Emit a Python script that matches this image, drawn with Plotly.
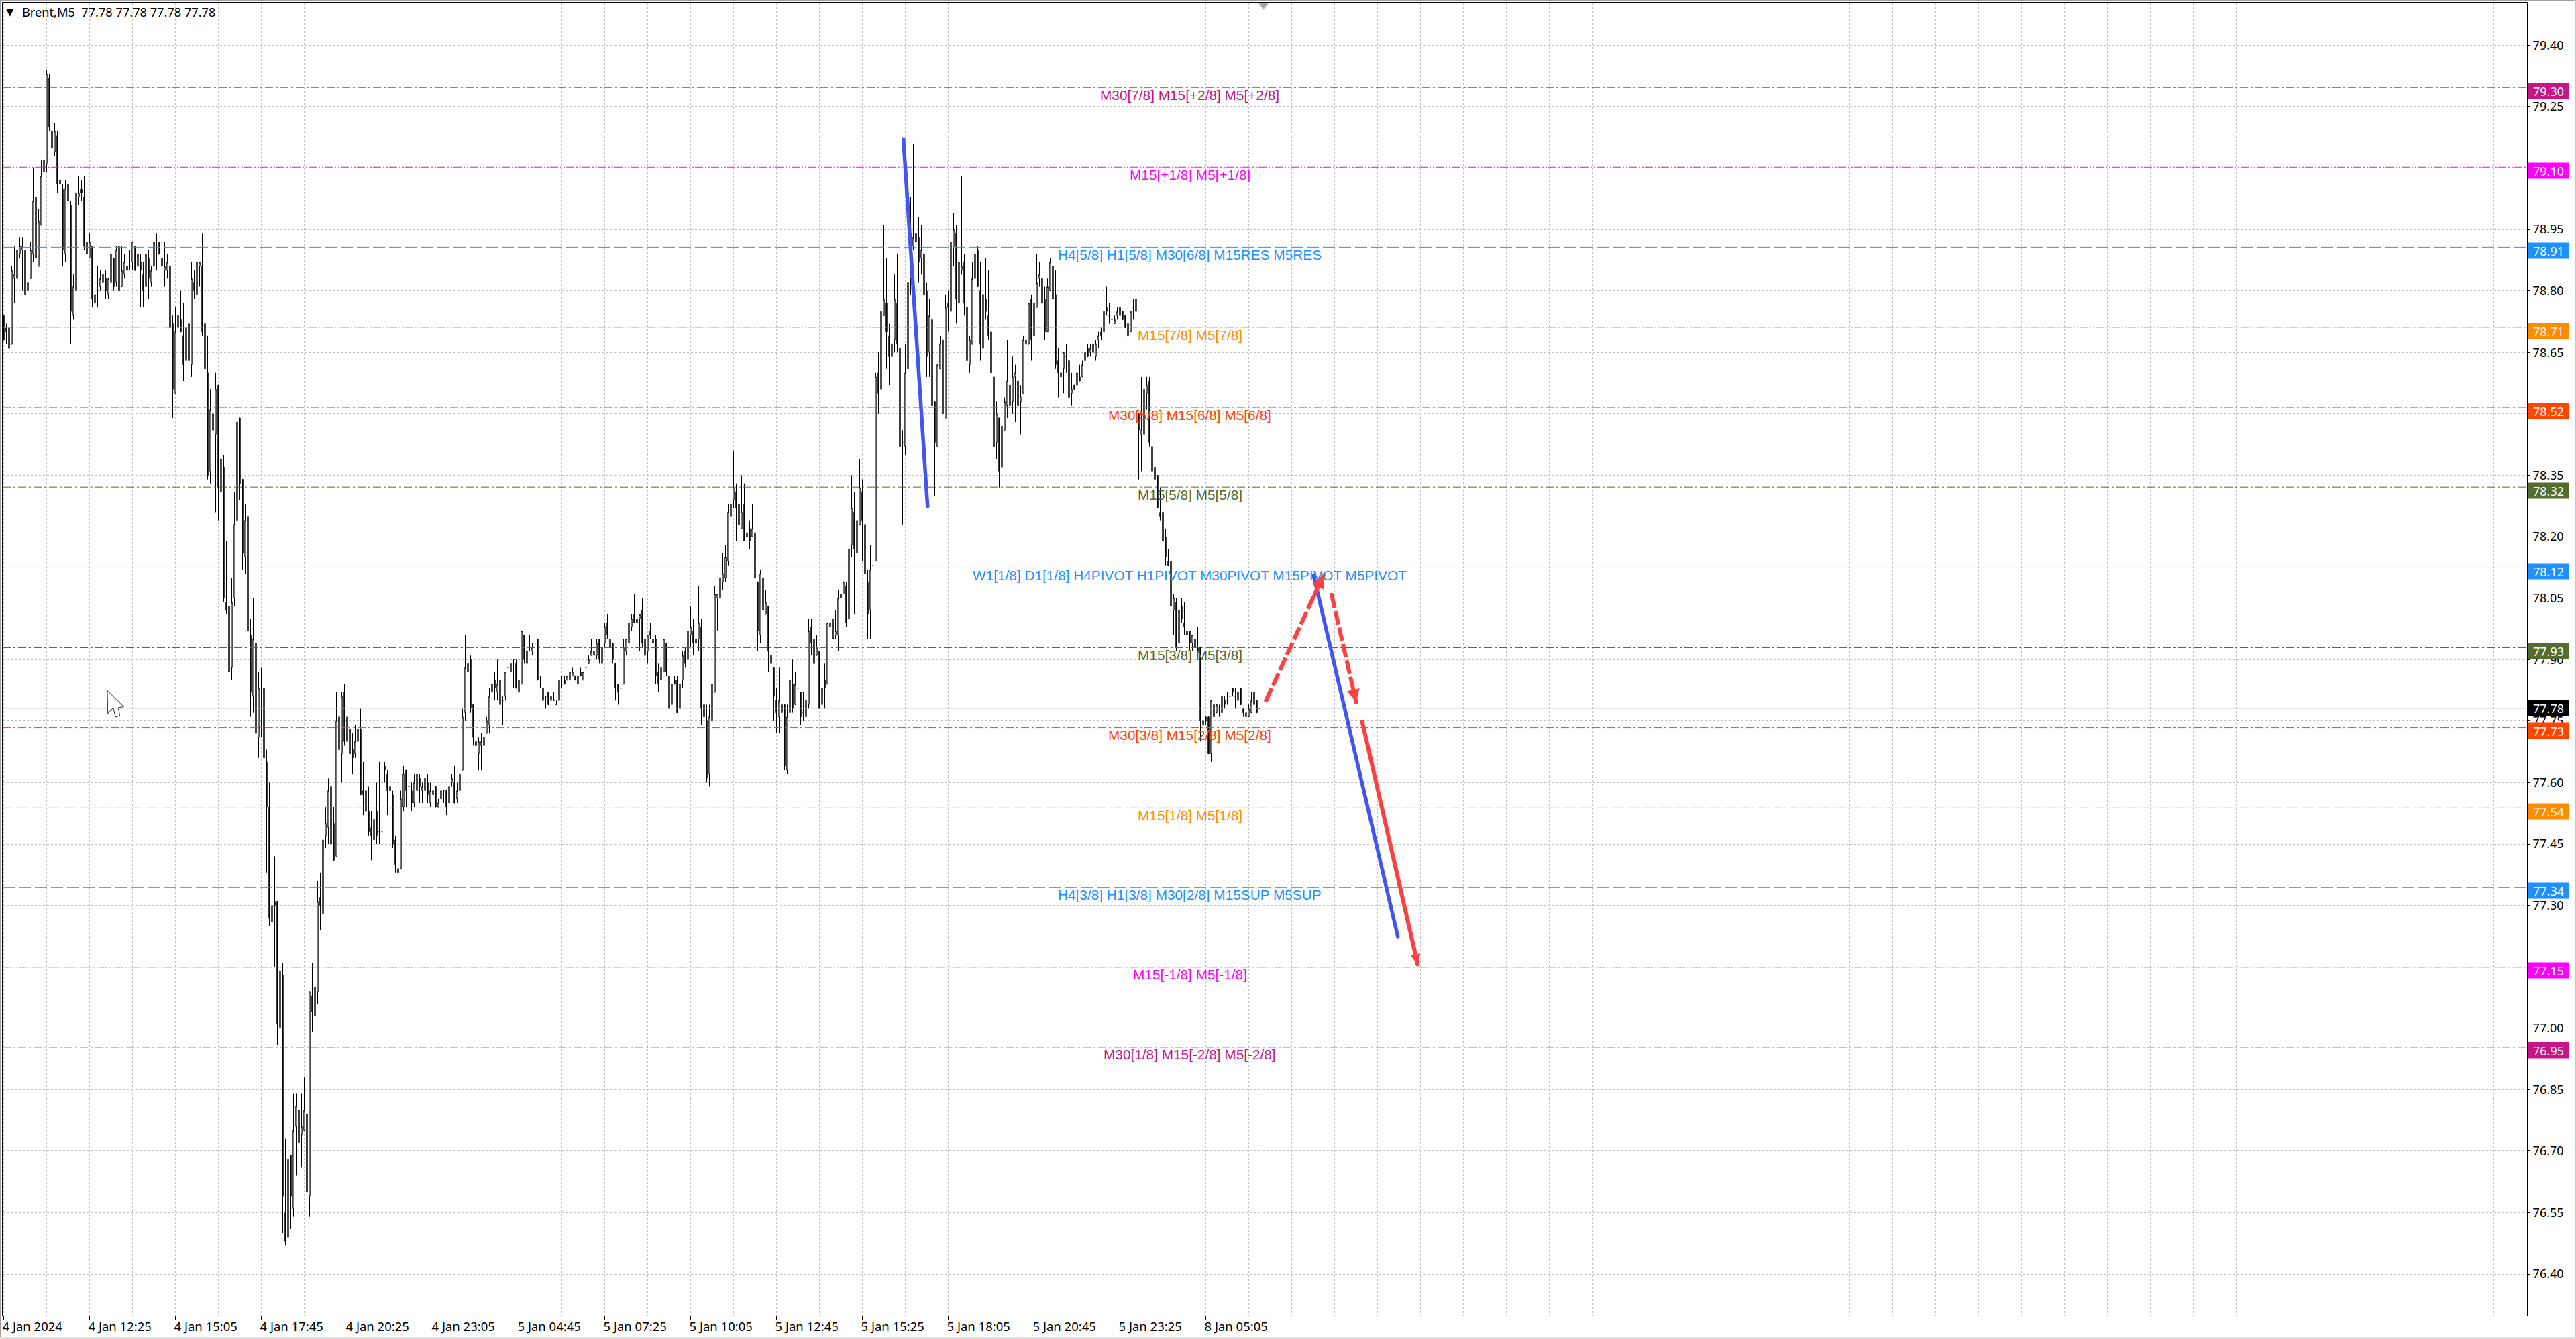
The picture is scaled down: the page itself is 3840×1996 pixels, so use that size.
import plotly.graph_objects as go

W, H = 3840, 1996
ML, MR, MT, MB = 4, 73, 4, 35

open_ = [
78.74,78.71,78.71,78.67,78.83,78.83,78.89,78.90,78.90,78.80,
78.83,78.89,79.03,78.86,78.96,79.09,79.11,79.32,79.19,79.14,
79.18,79.07,79.05,78.89,79.06,79.01,78.74,78.80,79.03,79.05,
79.03,78.92,78.88,78.91,78.77,78.80,78.81,78.82,78.83,78.79,
78.82,78.88,78.82,78.91,78.81,78.84,78.86,78.86,78.87,78.91,
78.86,78.87,78.84,78.81,78.88,78.82,78.86,78.91,78.92,78.88,
78.85,78.85,78.86,78.72,78.55,78.71,78.73,78.69,78.63,78.72,
78.62,78.82,78.79,78.86,78.86,78.72,78.60,78.36,78.50,78.45,
78.57,78.31,78.37,78.04,78.03,77.88,78.05,78.24,78.49,78.34,
78.15,78.25,77.96,77.81,77.94,77.71,77.84,77.83,77.65,77.54,
77.26,77.31,77.31,77.00,77.13,76.55,76.49,76.69,76.56,76.76,
76.80,76.74,76.75,76.79,76.59,77.08,77.03,77.09,77.32,77.28,
77.47,77.49,77.59,77.50,77.42,77.76,77.67,77.82,77.76,77.73,
77.68,77.67,77.70,77.73,77.58,77.58,77.53,77.49,77.46,77.53,
77.48,77.48,77.64,77.62,77.59,77.57,77.46,77.39,77.39,77.54,
77.63,77.59,77.58,77.55,77.58,77.61,77.58,77.58,77.60,77.55,
77.57,77.59,77.54,77.56,77.58,77.58,77.55,77.60,77.60,77.56,
77.58,77.63,77.77,77.87,77.90,77.79,77.70,77.67,77.69,77.69,
77.72,77.74,77.82,77.85,77.82,77.85,77.80,77.81,77.88,77.87,
77.90,77.89,77.82,77.84,77.96,77.89,77.93,77.92,77.94,77.95,
77.84,77.83,77.81,77.82,77.80,77.80,77.79,77.80,77.84,77.85,
77.85,77.85,77.86,77.86,77.84,77.87,77.85,77.88,77.89,77.91,
77.91,77.91,77.95,77.89,77.94,77.99,77.95,77.94,77.89,77.84,
77.83,77.84,77.92,77.94,77.98,78.01,78.00,78.00,78.02,77.95,
77.92,77.97,77.95,77.95,77.87,77.85,77.87,77.94,77.86,77.79,
77.85,77.85,77.78,77.85,77.92,77.90,77.96,77.97,77.95,77.95,
77.98,77.79,77.75,77.62,77.75,77.82,78.05,78.05,78.09,78.10,
78.14,78.25,78.29,78.31,78.28,78.22,78.28,78.20,78.22,78.20,
78.21,78.09,77.96,78.10,78.01,78.03,77.91,77.88,77.80,77.76,
77.79,77.79,77.63,77.77,77.84,77.79,77.83,77.82,77.77,77.76,
77.79,77.98,77.95,77.91,77.92,77.79,77.85,77.84,77.98,78.00,
77.96,77.96,78.06,78.06,78.08,78.00,78.18,78.26,78.16,78.23,
78.31,78.23,78.09,78.02,78.13,78.14,78.60,78.56,78.74,78.77,
78.69,78.64,78.68,78.77,78.66,78.43,78.42,78.61,78.83,78.91,
78.94,78.93,78.88,78.89,78.80,78.65,78.73,78.53,78.42,78.61,
78.68,78.49,78.77,78.75,78.91,78.94,78.77,78.85,78.87,78.76,
78.62,78.67,78.83,78.90,78.80,78.66,78.78,78.74,78.70,78.59,
78.43,78.49,78.37,78.46,78.52,78.57,78.53,78.59,78.58,78.53,
78.55,78.67,78.67,78.78,78.69,78.76,78.83,78.83,78.78,78.70,
78.80,78.86,78.79,78.63,78.59,78.61,78.64,78.63,78.55,78.57,
78.57,78.59,78.59,78.63,78.66,78.65,78.67,78.64,78.68,78.70,
78.70,78.76,78.74,78.73,78.72,78.74,78.76,78.75,78.74,78.72,
78.70,78.76,78.75,78.50,78.45,78.45,78.55,78.58,78.42,78.37,
78.35,78.26,78.26,78.20,78.14,78.14,78.02,78.04,77.94,78.03,
77.99,77.97,77.97,77.94,77.95,77.93,77.93,77.74,77.76,77.76,
77.67,77.79,77.77,77.78,77.77,77.80,77.80,77.81,77.83,77.81,
77.80,77.83,77.78,77.76,77.76,77.77,77.82,77.80,77.78]

high = [
78.74,78.72,78.71,78.86,78.91,78.92,78.93,78.93,78.93,78.85,
78.92,79.10,79.03,79.00,79.12,79.15,79.34,79.33,79.25,79.21,
79.19,79.07,79.06,79.07,79.06,79.02,78.84,79.04,79.08,79.07,
79.08,78.95,78.94,78.91,78.87,78.86,78.85,78.88,78.85,78.83,
78.92,78.88,78.91,78.91,78.91,78.89,78.90,78.90,78.92,78.91,
78.90,78.89,78.87,78.94,78.90,78.86,78.96,78.94,78.92,78.96,
78.92,78.89,78.87,78.74,78.76,78.81,78.80,78.77,78.78,78.83,
78.87,78.85,78.94,78.87,78.94,78.72,78.69,78.56,78.62,78.60,
78.57,78.53,78.40,78.19,78.11,78.10,78.31,78.50,78.49,78.34,
78.28,78.25,78.00,78.05,77.94,77.87,77.88,77.84,77.68,77.60,
77.42,77.42,77.31,77.16,77.16,76.73,76.72,76.69,76.84,76.84,
76.89,76.84,76.88,76.79,77.09,77.16,77.16,77.36,77.38,77.57,
77.54,77.61,77.61,77.54,77.82,77.80,77.82,77.84,77.79,77.79,
77.72,77.74,77.79,77.78,77.65,77.65,77.59,77.53,77.53,77.60,
77.65,77.50,77.65,77.63,77.61,77.58,77.47,77.42,77.58,77.64,
77.63,77.59,77.60,77.62,77.63,77.62,77.60,77.62,77.62,77.60,
77.58,77.59,77.56,77.60,77.58,77.58,77.59,77.62,77.64,77.60,
77.63,77.78,77.96,77.90,77.91,77.79,77.73,77.71,77.72,77.74,
77.76,77.83,77.85,77.87,77.90,77.85,77.81,77.87,77.90,77.90,
77.90,77.90,77.86,77.97,77.96,77.93,77.96,77.94,77.96,77.95,
77.86,77.83,77.81,77.82,77.82,77.82,77.80,77.85,77.86,77.86,
77.86,77.87,77.88,77.86,77.87,77.88,77.87,77.89,77.91,77.95,
77.94,77.95,77.95,77.93,77.99,78.01,77.96,77.94,77.89,77.84,
77.83,77.95,77.95,77.99,78.01,78.06,78.01,78.01,78.05,77.95,
77.96,77.99,77.98,77.96,77.89,77.89,77.95,77.94,77.87,77.85,
77.86,77.86,77.86,77.92,77.93,77.97,78.03,78.00,78.03,78.08,
78.00,77.94,77.79,77.79,77.87,78.08,78.06,78.14,78.16,78.18,
78.28,78.31,78.41,78.33,78.30,78.35,78.33,78.21,78.24,78.28,
78.24,78.09,78.12,78.10,78.07,78.03,77.98,77.88,77.83,77.88,
77.82,77.79,77.79,77.90,77.90,77.87,77.89,77.82,77.82,77.82,
78.00,78.00,77.96,77.96,77.92,77.85,77.89,77.99,78.01,78.02,
78.02,78.07,78.08,78.09,78.09,78.39,78.35,78.31,78.26,78.39,
78.34,78.24,78.12,78.18,78.23,78.60,78.65,78.76,78.96,78.88,
78.72,78.75,78.84,78.89,78.66,78.46,78.67,78.82,79.03,79.16,
79.10,78.98,78.96,78.92,78.82,78.78,78.74,78.53,78.62,78.69,
78.69,78.79,78.80,78.92,78.99,78.96,78.94,79.08,78.89,78.76,
78.69,78.87,78.93,78.91,78.87,78.82,78.88,78.85,78.75,78.62,
78.53,78.49,78.51,78.54,78.68,78.62,78.64,78.62,78.58,78.57,
78.69,78.72,78.77,78.79,78.80,78.89,78.87,78.85,78.81,78.83,
78.88,78.86,78.85,78.66,78.62,78.65,78.67,78.63,78.60,78.57,
78.63,78.62,78.63,78.65,78.67,78.67,78.67,78.68,78.70,78.71,
78.76,78.81,78.77,78.76,78.74,78.76,78.76,78.75,78.74,78.72,
78.75,78.78,78.79,78.50,78.59,78.56,78.59,78.59,78.42,78.37,
78.35,78.32,78.26,78.22,78.17,78.15,78.06,78.05,78.07,78.05,
78.04,77.97,77.97,77.96,77.95,77.98,77.93,77.76,77.76,77.76,
77.80,77.79,77.79,77.79,77.81,77.81,77.82,77.83,77.83,77.83,
77.83,77.83,77.78,77.78,77.79,77.82,77.82,77.80,77.78]

low = [
78.68,78.67,78.64,78.67,78.77,78.83,78.88,78.80,78.77,78.75,
78.83,78.87,78.88,78.86,78.96,79.05,79.09,79.19,79.14,79.13,
79.04,79.03,78.86,78.87,78.97,78.67,78.73,78.80,79.01,79.02,
78.90,78.88,78.88,78.76,78.77,78.76,78.80,78.71,78.78,78.78,
78.82,78.80,78.81,78.76,78.81,78.83,78.81,78.85,78.85,78.85,
78.85,78.76,78.76,78.81,78.78,78.81,78.86,78.85,78.89,78.84,
78.81,78.83,78.68,78.49,78.55,78.64,78.70,78.58,78.61,78.60,
78.59,78.78,78.79,78.81,78.69,78.43,78.34,78.33,78.40,78.26,
78.24,78.23,78.04,78.01,77.82,77.85,78.03,78.19,78.29,78.12,
78.11,77.93,77.76,77.77,77.60,77.66,77.71,77.61,77.38,77.25,
77.17,77.15,76.96,76.96,76.50,76.47,76.47,76.51,76.54,76.64,
76.67,76.66,76.75,76.50,76.54,76.99,76.99,77.06,77.24,77.28,
77.44,77.45,77.45,77.41,77.42,77.61,77.60,77.69,77.68,77.67,
77.62,77.66,77.69,77.57,77.52,77.52,77.47,77.41,77.26,77.45,
77.45,77.46,77.60,77.52,77.57,77.44,77.38,77.33,77.39,77.53,
77.54,77.56,77.53,77.54,77.50,77.55,77.55,77.51,77.55,77.54,
77.54,77.54,77.54,77.54,77.55,77.52,77.55,77.59,77.55,77.55,
77.58,77.63,77.75,77.81,77.77,77.69,77.67,77.63,77.63,77.69,
77.72,77.72,77.80,77.80,77.80,77.79,77.74,77.80,77.86,77.83,
77.83,77.83,77.82,77.84,77.89,77.89,77.92,77.91,77.92,77.85,
77.83,77.80,77.78,77.79,77.80,77.80,77.79,77.80,77.83,77.84,
77.85,77.85,77.86,77.85,77.84,77.86,77.85,77.87,77.89,77.91,
77.91,77.90,77.89,77.88,77.93,77.95,77.91,77.89,77.80,77.79,
77.82,77.84,77.91,77.94,77.97,77.99,77.97,77.92,77.93,77.90,
77.89,77.95,77.92,77.84,77.82,77.85,77.87,77.86,77.74,77.74,
77.84,77.77,77.75,77.83,77.88,77.81,77.93,77.91,77.92,77.92,
77.74,77.66,77.60,77.59,77.74,77.82,77.97,77.98,78.07,78.09,
78.13,78.24,78.27,78.19,78.22,78.22,78.19,78.08,78.17,78.20,
78.09,77.92,77.94,78.02,78.01,77.87,77.87,77.75,77.72,77.72,
77.74,77.63,77.62,77.77,77.77,77.79,77.83,77.74,77.75,77.71,
77.78,77.91,77.85,77.91,77.78,77.78,77.78,77.84,77.98,77.93,
77.95,77.92,78.05,78.06,77.98,78.00,78.15,78.01,78.14,78.23,
78.14,78.11,77.95,77.95,78.08,78.14,78.50,78.40,78.74,78.61,
78.57,78.51,78.65,78.65,78.39,78.23,78.40,78.50,78.79,78.90,
78.90,78.82,78.84,78.75,78.59,78.59,78.52,78.30,78.42,78.61,
78.49,78.49,78.70,78.75,78.86,78.72,78.72,78.84,78.74,78.60,
78.60,78.67,78.78,78.81,78.63,78.65,78.73,78.68,78.57,78.39,
78.39,78.32,78.36,78.46,78.49,78.48,78.50,78.48,78.42,78.45,
78.55,78.64,78.67,78.63,78.68,78.76,78.81,78.72,78.68,78.70,
78.80,78.78,78.61,78.54,78.54,78.55,78.60,78.54,78.52,78.56,
78.56,78.58,78.59,78.63,78.64,78.64,78.65,78.63,78.66,78.68,
78.70,78.74,78.72,78.72,78.72,78.73,78.74,78.73,78.71,78.69,
78.70,78.73,78.74,78.34,78.36,78.45,78.51,78.42,78.36,78.25,
78.27,78.24,78.17,78.13,78.13,78.02,77.96,77.92,77.93,77.99,
77.96,77.92,77.92,77.92,77.91,77.91,77.70,77.70,77.74,77.67,
77.65,77.73,77.77,77.76,77.76,77.78,77.79,77.80,77.81,77.78,
77.79,77.79,77.76,77.75,77.76,77.77,77.79,77.77,77.78]

close = [
78.68,78.70,78.66,78.85,78.84,78.90,78.91,78.91,78.79,78.82,
78.90,79.02,78.88,78.97,79.08,79.12,79.33,79.20,79.15,79.19,
79.06,79.06,78.90,79.05,79.02,78.75,78.81,79.04,79.04,79.04,
78.91,78.89,78.92,78.78,78.79,78.80,78.83,78.84,78.80,78.83,
78.89,78.81,78.90,78.80,78.85,78.87,78.85,78.86,78.92,78.85,
78.89,78.85,78.80,78.89,78.83,78.85,78.92,78.91,78.89,78.86,
78.86,78.87,78.71,78.56,78.70,78.74,78.70,78.62,78.71,78.63,
78.83,78.80,78.87,78.87,78.70,78.61,78.35,78.51,78.46,78.56,
78.32,78.39,78.05,78.02,77.87,78.04,78.23,78.48,78.33,78.16,
78.24,77.97,77.82,77.95,77.72,77.83,77.84,77.66,77.54,77.27,
77.30,77.30,77.01,77.14,76.59,76.48,76.68,76.59,76.75,76.81,
76.72,76.76,76.80,76.60,77.09,77.04,77.10,77.31,77.30,77.46,
77.50,77.58,77.45,77.41,77.75,77.68,77.81,77.70,77.70,77.67,
77.66,77.70,77.73,77.57,77.57,77.53,77.48,77.47,77.51,77.47,
77.48,77.48,77.63,77.58,77.58,77.45,77.40,77.38,77.56,77.62,
77.58,77.59,77.55,77.60,77.62,77.59,77.59,77.61,77.57,77.58,
77.58,77.54,77.55,77.58,77.58,77.54,77.59,77.61,77.55,77.58,
77.62,77.76,77.88,77.89,77.78,77.71,77.69,77.70,77.70,77.71,
77.75,77.81,77.84,77.83,77.84,77.79,77.80,77.87,77.88,77.89,
77.90,77.83,77.85,77.97,77.90,77.92,77.93,77.93,77.94,77.85,
77.84,77.80,77.81,77.79,77.81,77.80,77.79,77.85,77.84,77.84,
77.86,77.87,77.87,77.85,77.86,77.86,77.87,77.88,77.90,77.92,
77.92,77.94,77.90,77.93,77.98,77.96,77.93,77.90,77.83,77.82,
77.83,77.93,77.95,77.99,78.00,77.99,77.99,78.01,77.94,77.91,
77.96,77.96,77.94,77.86,77.84,77.88,77.95,77.87,77.78,77.84,
77.84,77.77,77.84,77.91,77.89,77.97,77.98,77.94,77.94,77.99,
77.78,77.76,77.61,77.76,77.84,78.06,78.06,78.10,78.11,78.15,
78.26,78.28,78.32,78.27,78.23,78.26,78.19,78.21,78.19,78.22,
78.10,77.97,78.11,78.02,78.04,77.92,77.89,77.81,77.77,77.80,
77.77,77.64,77.76,77.85,77.78,77.84,77.83,77.76,77.77,77.80,
77.97,77.94,77.89,77.93,77.78,77.83,77.83,77.99,77.99,77.95,
77.97,78.05,78.05,78.09,77.99,78.17,78.27,78.17,78.24,78.32,
78.24,78.11,78.01,78.12,78.13,78.59,78.55,78.75,78.78,78.70,
78.64,78.67,78.78,78.67,78.42,78.43,78.60,78.82,78.94,78.93,
78.92,78.87,78.90,78.79,78.64,78.74,78.52,78.43,78.62,78.67,
78.50,78.76,78.76,78.92,78.95,78.78,78.87,78.86,78.77,78.63,
78.68,78.83,78.89,78.81,78.67,78.79,78.75,78.69,78.60,78.42,
78.50,78.36,78.47,78.53,78.58,78.52,78.59,78.60,78.52,78.54,
78.68,78.68,78.77,78.68,78.77,78.82,78.84,78.77,78.70,78.81,
78.87,78.78,78.62,78.60,78.60,78.65,78.64,78.54,78.56,78.56,
78.60,78.58,78.62,78.65,78.64,78.66,78.65,78.67,78.69,78.69,
78.75,78.75,78.74,78.73,78.73,78.75,78.74,78.73,78.71,78.69,
78.75,78.76,78.78,78.46,78.46,78.56,78.57,78.43,78.36,78.34,
78.27,78.25,78.19,78.15,78.13,78.03,78.05,77.93,78.02,78.00,
77.98,77.96,77.94,77.96,77.93,77.92,77.75,77.75,77.75,77.67,
77.80,77.76,77.79,77.78,77.81,77.79,77.80,77.81,77.82,77.81,
77.82,77.79,77.77,77.77,77.78,77.80,77.79,77.77,77.78]

price_ticks = [79.40,79.25,79.10,78.95,78.80,78.65,78.50,78.35,78.20,78.05,77.90,
               77.75,77.60,77.45,77.30,77.15,77.00,76.85,76.70,76.55,76.40]
time_labels = ["4 Jan 2024","4 Jan 12:25","4 Jan 15:05","4 Jan 17:45","4 Jan 20:25",
               "4 Jan 23:05","5 Jan 04:45","5 Jan 07:25","5 Jan 10:05","5 Jan 12:45",
               "5 Jan 15:25","5 Jan 18:05","5 Jan 20:45","5 Jan 23:25","8 Jan 05:05"]

level_prices = [79.297,79.102,78.907,78.711,78.516,78.321,78.124,77.929,77.734,77.538,77.344,77.149,76.954]
level_shown  = ["79.30","79.10","78.91","78.71","78.52","78.32","78.12","77.93","77.73","77.54","77.34","77.15","76.95"]
level_colors = ["#C71585","#FF00FF","#1E90FF","#FF8C00","#FF4500","#556B2F","#1E90FF",
                "#556B2F","#FF4500","#FF8C00","#1E90FF","#FF00FF","#C71585"]
level_texts = ["M30[7/8] M15[+2/8] M5[+2/8]","M15[+1/8] M5[+1/8]","H4[5/8] H1[5/8] M30[6/8] M15RES M5RES",
               "M15[7/8] M5[7/8]","M30[5/8] M15[6/8] M5[6/8]","M15[5/8] M5[5/8]",
               "W1[1/8] D1[1/8] H4PIVOT H1PIVOT M30PIVOT M15PIVOT M5PIVOT","M15[3/8] M5[3/8]",
               "M30[3/8] M15[2/8] M5[2/8]","M15[1/8] M5[1/8]","H4[3/8] H1[3/8] M30[2/8] M15SUP M5SUP",
               "M15[-1/8] M5[-1/8]","M30[1/8] M15[-2/8] M5[-2/8]"]
DD = "12px,4px,3px,4px"
DDD = "12px,3px,2px,3px,2px,2px"
LD = "18px,6px"
level_dash = [DD,DDD,LD,DDD,DD,DD,"solid",DD,DD,DDD,LD,DDD,DD]

bid = 77.781
blue_x1, blue_y1 = [335.3,344.3], [79.171,78.274]
blue_x2, blue_y2 = [488.2,519.55], [78.105,77.224]
up_x, up_y = [470.45,491.8], [77.800,78.106]
down_x, down_y = [494.9,504.05], [78.058,77.796]
fall_x, fall_y = [506.3,526.97], [77.748,77.156]

BLUE = "#4156F0"
RED = "#FF4040"
XMIN = -0.375
XMAX = XMIN + (W - ML - MR) / 4

def px(x): return (x - ML) / (W - ML - MR)
def py(y): return 1 - (y - MT) / (H - MT - MB)

fig = go.Figure()
for p, c, d in zip(level_prices, level_colors, level_dash):
    fig.add_trace(go.Scatter(x=[XMIN, XMAX], y=[p, p], mode="lines", hoverinfo="skip",
                             line=dict(color=c, width=1, dash=d)))
fig.add_trace(go.Scatter(x=[XMIN, XMAX], y=[bid, bid], mode="lines", hoverinfo="skip",
                         line=dict(color="#c0c0c0", width=1)))

fig.add_trace(go.Candlestick(
    x=list(range(len(open_))), open=open_, high=high, low=low, close=close,
    increasing=dict(line=dict(color="black", width=1), fillcolor="white"),
    decreasing=dict(line=dict(color="black", width=1), fillcolor="black"),
    whiskerwidth=0))

for xs, ys in [(blue_x1, blue_y1), (blue_x2, blue_y2)]:
    fig.add_trace(go.Scatter(x=xs, y=ys, mode="lines+markers", hoverinfo="skip",
                             line=dict(color=BLUE, width=5.5),
                             marker=dict(color=BLUE, size=5.5, symbol="circle")))
for xs, ys, d in [(up_x, up_y, "20px,5px"), (down_x, down_y, "20px,5px"), (fall_x, fall_y, "solid")]:
    fig.add_trace(go.Scatter(x=xs, y=ys, mode="lines+markers", hoverinfo="skip",
                             line=dict(color=RED, width=6, dash=d),
                             marker=dict(color=RED, size=6, symbol="circle")))

fig.add_trace(go.Scatter(x=[469.5], y=[79.498], mode="markers", hoverinfo="skip",
                         marker=dict(color="#a8a8a8", size=14, symbol="triangle-down")))

ann = []
FONT = "Noto Sans"
for p, t, c, s in zip(level_prices, level_texts, level_colors, level_shown):
    ann.append(dict(x=442.1, y=p, xref="x", yref="y", text=t, showarrow=False, xanchor="center",
                    yanchor="middle", yshift=-11, font=dict(family="Liberation Sans", size=20.8, color=c)))
    ann.append(dict(x=1.0003, y=p, xref="paper", yref="y", text=s, showarrow=False, xanchor="left",
                    yanchor="middle", yshift=-5, width=60, height=23, bgcolor=c, borderpad=0,
                    align="center", valign="middle", font=dict(family=FONT, size=18, color="white")))
ann.append(dict(x=1.0003, y=bid, xref="paper", yref="y", text="77.78", showarrow=False, xanchor="left",
                yanchor="middle", width=60, height=23, bgcolor="black", borderpad=0,
                align="center", valign="middle", font=dict(family=FONT, size=18, color="white")))
ann.append(dict(x=px(31), y=py(18), xref="paper", yref="paper", xanchor="left", yanchor="middle",
                showarrow=False, text="Brent,M5&nbsp;&nbsp;77.78 77.78 77.78 77.78",
                font=dict(family=FONT, size=18.2, color="black")))
ann.append(dict(x=px(14.5), y=py(18), xref="paper", yref="paper", xanchor="center", yanchor="middle",
                showarrow=False, text="▼", font=dict(family="DejaVu Sans", size=15, color="black")))

for xs, ys, sz in [(up_x, up_y, 0.76), (down_x, down_y, 0.76), (fall_x, fall_y, 0.6)]:
    ann.append(dict(x=xs[1], y=ys[1], ax=xs[1] + 0.2 * (xs[0] - xs[1]), ay=ys[1] + 0.2 * (ys[0] - ys[1]),
                    xref="x", yref="y", axref="x", ayref="y", text="", showarrow=True,
                    arrowhead=2, arrowsize=sz, arrowwidth=5, arrowcolor=RED, standoff=0))

def band(x0, y0, x1, y1, col):
    return dict(type="rect", xref="paper", yref="paper", x0=px(x0), x1=px(x1), y0=py(y0), y1=py(y1),
                fillcolor=col, line=dict(width=0), layer="above")

cursor = [(160,1029.5),(184.4,1053.6),(176.3,1055),(178.6,1067),(172,1069),(168.8,1055),(160.7,1064)]
cursor_path = "M " + " L ".join(f"{px(a):.6f},{py(b):.6f}" for a, b in cursor) + " Z"
shapes = [band(0,0,W,2,"#a0a0a0"), band(0,0,2,H,"#a0a0a0"), band(W-2,0,W,H,"#c8c8c8"),
          band(0,H-3,W,H,"#e0e0e0"),
          dict(type="path", xref="paper", yref="paper", path=cursor_path, fillcolor="white",
               line=dict(color="#333333", width=1), layer="above")]

major = [32 * i for i in range(len(time_labels))]

fig.update_layout(
    width=W, height=H, showlegend=False, paper_bgcolor="white", plot_bgcolor="white",
    margin=dict(l=ML, r=MR, t=MT, b=MB, autoexpand=False), annotations=ann, shapes=shapes,
    boxgap=0.5,
    xaxis=dict(range=[XMIN, XMAX], rangeslider=dict(visible=False), tickmode="array",
               tickvals=major, ticktext=time_labels, ticks="outside", ticklen=5, tickwidth=1, tickcolor="black",
               ticklabelposition="outside right", ticklabelshift=-3,
               showline=True, linecolor="black", linewidth=1, mirror=True,
               showgrid=True, gridcolor="#c0c0c0", griddash="3px,3px", gridwidth=1,
               minor=dict(dtick=16, tick0=0, showgrid=True, gridcolor="#c0c0c0", griddash="3px,3px", gridwidth=1),
               tickfont=dict(family=FONT, size=18.5, color="black"), zeroline=False),
    yaxis=dict(range=[76.2987, 79.5037], side="right", tickmode="array", tickvals=price_ticks,
               ticktext=[f"{v:.2f}" for v in price_ticks], ticks="outside", ticklen=4, tickwidth=1, tickcolor="black",
               showline=True, linecolor="black", linewidth=1, mirror=True,
               showgrid=True, gridcolor="#c0c0c0", griddash="3px,3px", gridwidth=1,
               tickfont=dict(family=FONT, size=18, color="black"), zeroline=False),
)
fig.write_html("out.html", config={"displayModeBar": False},
               post_script="document.body.style.margin='0';document.body.style.overflow='hidden';")
